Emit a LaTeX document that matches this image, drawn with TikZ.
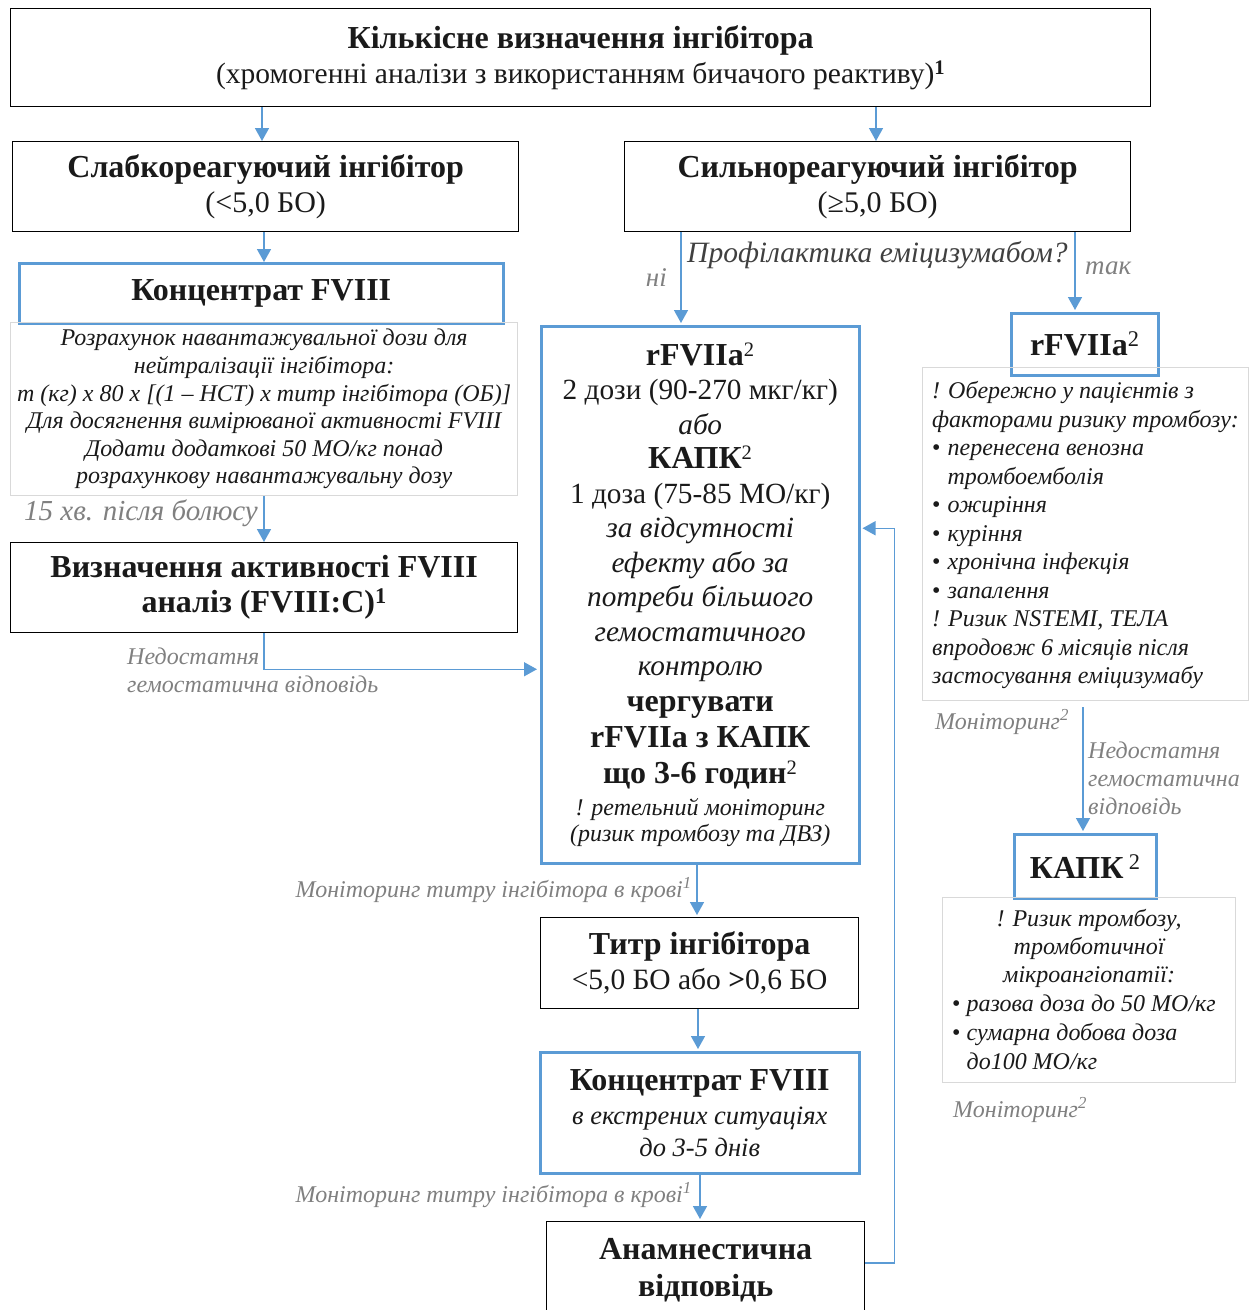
\documentclass[tikz,border=0pt]{standalone}
\usepackage{fontspec}
\setmainfont{Liberation Serif}
\usetikzlibrary{arrows.meta,calc}
\definecolor{bl}{HTML}{5B9BD5}
\definecolor{gtxt}{HTML}{808080}
\definecolor{dtxt}{HTML}{404040}
\definecolor{lg}{HTML}{D9D9D9}
\definecolor{ink}{HTML}{1A1A1A}
\newcommand{\fs}[2]{\fontsize{#1}{#2}\selectfont}
\begin{document}
\begin{tikzpicture}[x=1pt,y=-1pt,
  blackbox/.style={draw=black, line width=1.3pt, inner sep=0pt, align=center, anchor=north west, text=ink},
  bluebox/.style={draw=bl, line width=2.5pt, inner sep=0pt, align=center, anchor=north west, text=ink},
  notebox/.style={draw=lg, line width=1.2pt, inner sep=0pt, anchor=north west},
  arr/.style={draw=bl, line width=1.5pt, -{Triangle[length=13pt,width=14pt]}},
  lbl/.style={text=gtxt, font=\fs{24}{28}\itshape, inner sep=0pt},
  notetxt/.style={text=ink, font=\fs{24}{28}\itshape, inner sep=0pt},
]
\useasboundingbox (0,0) rectangle (1254,1310);

% ---- boxes ----
\node[blackbox, minimum width=1140, minimum height=98, font=\fs{32}{35}] (top) at (10,8)
  {{\bfseries Кількісне визначення інгібітора}\\{\fs{29.5}{35}(хромогенні аналізи з використанням бичачого реактиву)\textsuperscript{\bfseries 1}}};

\node[blackbox, minimum width=506, minimum height=90, font=\fs{32}{35}] (sl) at (12,141)
  {{\bfseries Слабкореагуючий інгібітор}\\{\fs{30}{35}(<5,0 БО)}};

\node[blackbox, minimum width=506, minimum height=90, font=\fs{32}{35}] (sil) at (624,141)
  {{\bfseries Сильнореагуючий інгібітор}\\{\fs{30}{35}(≥5,0 БО)}};

\node[bluebox, minimum width=484, minimum height=60, font=\fs{32}{35}\bfseries] (konc) at (18,262)
  {Концентрат FVIII};

\node[notebox, minimum width=507, minimum height=173, align=center, font=\fs{24}{27.6}\itshape, text=ink] (lnote) at (10,322)
  {Розрахунок навантажувальної дози для\\нейтралізації інгібітора:\\m (кг) х 80 х [(1 -- НСТ) х титр інгібітора (ОБ)]\\Для досягнення вимірюваної активності FVIII\\Додати додаткові 50 МО/кг понад\\розрахункову навантажувальну дозу};

\node[blackbox, minimum width=507, minimum height=90, font=\fs{32}{35}\bfseries] (viz) at (10,542)
  {Визначення активності FVIII\\аналіз (FVIII:C)\textsuperscript{1}};

\node[bluebox, minimum width=318, minimum height=537, font=\fs{29.3}{34.5}] (cbox) at (540,325)
  {{\fs{32}{34.5}\bfseries rFVIIa}\textsuperscript{2}\\
   2 дози (90-270 мкг/кг)\\
   {\itshape або}\\
   {\fs{32}{34.5}\bfseries КАПК}\textsuperscript{2}\\
   1 доза (75-85 МО/кг)\\
   {\itshape за відсутності}\\
   {\itshape ефекту або за}\\
   {\itshape потреби більшого}\\
   {\itshape гемостатичного}\\
   {\itshape контролю}\\[1pt]
   {\fs{32}{34.5}\bfseries чергувати}\\[1.5pt]
   {\fs{32}{34.5}\bfseries rFVIIa з КАПК}\\[1.5pt]
   {\fs{32}{34.5}\bfseries що 3-6 годин}\textsuperscript{2}\\[-2pt]
   {\fs{24}{26}\itshape ! ретельний моніторинг}\\[-8.5pt]
   {\fs{24}{26}\itshape (ризик тромбозу та ДВЗ)}};

\node[bluebox, minimum width=147, minimum height=62, font=\fs{32}{35}] (rf) at (1010,312)
  {{\bfseries rFVIIa}\textsuperscript{2}};

\node[notebox, minimum width=326, minimum height=333] (rnote) at (922,367) {};
\node[notetxt, anchor=west, align=left, font=\fs{24}{28.5}\itshape] (rnotetext) at ($(rnote.west)+(10,1)$)
  {! Обережно у пацієнтів з\\
   факторами ризику тромбозу:\\
   {\upshape\textbullet}\hspace{7pt}перенесена венозна\\
   \hphantom{{\upshape\textbullet}\hspace{7pt}}тромбоемболія\\
   {\upshape\textbullet}\hspace{7pt}ожиріння\\
   {\upshape\textbullet}\hspace{7pt}куріння\\
   {\upshape\textbullet}\hspace{7pt}хронічна інфекція\\
   {\upshape\textbullet}\hspace{7pt}запалення\\
   ! Ризик NSTEMI, ТЕЛА\\
   впродовж 6 місяців після\\
   застосування еміцизумабу};

\node[bluebox, minimum width=142, minimum height=64, font=\fs{32}{35}] (kapk) at (1013,833)
  {{\bfseries КАПК}\,\textsuperscript{2}};

\node[notebox, minimum width=293, minimum height=185] (knote) at (942,897) {};
\node[notetxt, anchor=north, align=center, font=\fs{24}{28}\itshape] (knotehead) at ($(knote.north)+(0,12)$)
  {! Ризик тромбозу,\\тромботичної\\мікроангіопатії:};
\node[notetxt, anchor=north west, align=left, font=\fs{24}{29}\itshape] (knotelist) at ($(knote.north west)+(10,98)$)
  {{\upshape\textbullet}\hspace{6pt}разова доза до 50 МО/кг\\
   {\upshape\textbullet}\hspace{6pt}сумарна добова доза\\
   \hphantom{{\upshape\textbullet}\hspace{6pt}}до100 МО/кг};

\node[blackbox, minimum width=318, minimum height=91, font=\fs{32}{35}] (titr) at (540,917)
  {{\bfseries Титр інгібітора}\\{\fs{29.5}{35}<5,0 БО або {\bfseries >}0,6 БО}};

\node[bluebox, minimum width=319, minimum height=121, font=\fs{32}{32}] (konc2) at (539,1051)
  {{\bfseries Концентрат FVIII}\\[2pt]{\fs{26.5}{30}\itshape в екстрених ситуаціях}\\{\fs{26.5}{30}\itshape до 3-5 днів}};

\node[blackbox, minimum width=318, minimum height=97, font=\fs{32}{37}\bfseries] (anam) at (546,1221)
  {Анамнестична\\відповідь};

% ---- connectors ----
\draw[arr] ($(top.south west)+(252,0)$) -- ($(sl.north west)+(250,0)$);
\draw[arr] ($(top.south west)+(866,0)$) -- ($(sil.north west)+(252,0)$);
\draw[arr] ($(sl.south west)+(252,0)$) -- ($(konc.north west)+(246,0)$);
\draw[arr] ($(lnote.south west)+(254,0)$) -- ($(viz.north west)+(254,0)$);
\draw[arr] ($(viz.south west)+(254,0)$) |- ($(cbox.west)+(-3,74.5)$);
\draw[arr] ($(sil.south west)+(57,0)$) -- ($(cbox.north west)+(141,-2)$);
\draw[arr] ($(sil.south west)+(451,0)$) -- ($(rf.north west)+(65,-2)$);
\draw[arr] ($(rnote.south west)+(161,6)$) -- ($(kapk.north west)+(70,-2)$);
\draw[arr] ($(cbox.south west)+(157,0)$) -- ($(titr.north west)+(157,-2)$);
\draw[arr] ($(titr.south west)+(158,0)$) -- ($(konc2.north west)+(159,-2)$);
\draw[arr] ($(konc2.south west)+(161,0)$) -- ($(anam.north west)+(154,-2)$);
\coordinate (ret) at ($(anam.north east)+(29,42)$);
\draw[arr] ($(anam.north east)+(0,42)$) -- (ret) |- ($(cbox.east)+(2,-66.5)$);

% ---- labels ----
\node[lbl, anchor=east, font=\fs{29}{30}\itshape] (l15) at (258,513) {15 хв. після болюсу};
\node[lbl, anchor=north west, align=left] (lned1) at (127,648) {Недостатня\\гемостатична відповідь};
\node[lbl, anchor=east, font=\fs{27}{30}\itshape] (lni) at (667,278) {ні};
\node[lbl, anchor=west, text=dtxt, font=\fs{29.5}{30}\itshape] (lprof) at (687,255) {Профілактика еміцизумабом?};
\node[lbl, anchor=west, font=\fs{27}{30}\itshape] (ltak) at (1085,268) {так};
\node[lbl, anchor=west] (lmon1) at (935,722) {Моніторинг\textsuperscript{2}};
\node[lbl, anchor=north west, align=left] (lned2) at (1088,742) {Недостатня\\гемостатична\\відповідь};
\node[lbl, anchor=west] (lmon2) at (953,1110) {Моніторинг\textsuperscript{2}};
\node[lbl, anchor=east] (lmt1) at (692,890) {Моніторинг титру інгібітора в крові\textsuperscript{1}};
\node[lbl, anchor=east] (lmt2) at (692,1195) {Моніторинг титру інгібітора в крові\textsuperscript{1}};
\end{tikzpicture}
\end{document}
